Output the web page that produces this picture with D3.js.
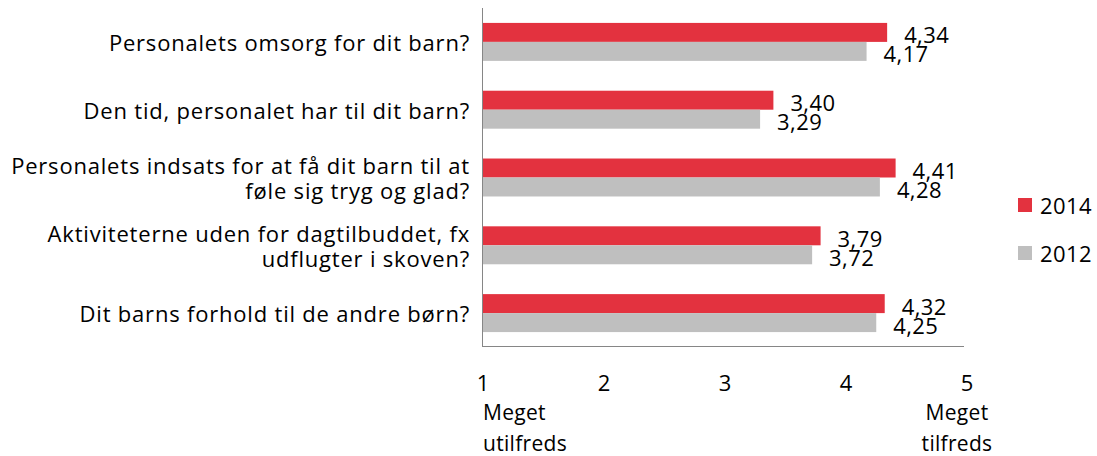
<!DOCTYPE html>
<html>
<head>
<meta charset="utf-8">
<script src="https://cdn.jsdelivr.net/npm/d3@7"></script>
<style>
  body { margin: 0; background: #fff; }
  svg text { font-family: "Open Sans", sans-serif; fill: #000; }
</style>
</head>
<body>
<div id="chart"></div>
<script>
const categories = [
  ["Personalets omsorg for dit barn?"],
  ["Den tid, personalet har til dit barn?"],
  ["Personalets indsats for at få dit barn til at", "føle sig tryg og glad?"],
  ["Aktiviteterne uden for dagtilbuddet, fx", "udflugter i skoven?"],
  ["Dit barns forhold til de andre børn?"]
];
const years = ["2014", "2012"];
const values2014 = [4.34, 3.40, 4.41, 3.79, 4.32];
const values2012 = [4.17, 3.29, 4.28, 3.72, 4.25];
const ticks = [1, 2, 3, 4, 5];
const colors = { "2014": "#e3323f", "2012": "#bfbfbf" };

const width = 1097, height = 456;
const svg = d3.select("#chart").append("svg").attr("width", width).attr("height", height);

const x = d3.scaleLinear().domain([1, 5]).range([483, 967]);
const y = d3.scaleBand().domain(d3.range(categories.length)).range([8, 347]).paddingInner(0.44).paddingOuter(0.22);
const sub = d3.scaleBand().domain(years).range([0, y.bandwidth()]);

const rows = categories.map((c, i) => ({ i, lines: c, "2014": values2014[i], "2012": values2012[i] }));

// axes lines
svg.append("line").attr("x1", 482.5).attr("x2", 482.5).attr("y1", 8).attr("y2", 347).attr("stroke", "#868686").attr("stroke-width", 1);
svg.append("line").attr("x1", 482).attr("x2", 964).attr("y1", 346.5).attr("y2", 346.5).attr("stroke", "#868686").attr("stroke-width", 1);

const g = svg.selectAll(".row").data(rows).enter().append("g").attr("transform", d => `translate(0,${y(d.i)})`);

years.forEach(yr => {
  g.append("rect")
    .attr("x", x(1))
    .attr("y", sub(yr))
    .attr("width", d => x(d[yr]) - x(1))
    .attr("height", sub.bandwidth())
    .attr("fill", colors[yr]);
  g.append("text")
    .attr("x", d => x(d[yr]) + 17)
    .attr("y", sub(yr) + sub.bandwidth() / 2 + 2)
    .attr("dominant-baseline", "central")
    .attr("font-size", "22px")
    .attr("letter-spacing", "0.4px")
    .text(d => d3.format(".2f")(d[yr]).replace(".", ","));
});

// category labels
g.each(function(d) {
  const n = d.lines.length;
  d.lines.forEach((line, k) => {
    d3.select(this).append("text")
      .attr("x", 470)
      .attr("y", y.bandwidth() / 2 + (k - (n - 1) / 2) * 25)
      .attr("dominant-baseline", "central")
      .attr("text-anchor", "end")
      .attr("font-size", "22px")
      .attr("letter-spacing", "0.8px")
      .text(line);
  });
});

// tick labels
svg.selectAll(".tick").data(ticks).enter().append("text")
  .attr("x", d => x(d))
  .attr("y", 382)
  .attr("dominant-baseline", "central")
  .attr("text-anchor", "middle")
  .attr("font-size", "22px")
  .text(d => d);

const end = [
  { t: "Meget", x: 483, y: 412, a: "start" },
  { t: "utilfreds", x: 483, y: 443, a: "start" },
  { t: "Meget", x: 957, y: 412, a: "middle" },
  { t: "tilfreds", x: 957, y: 443, a: "middle" }
];
svg.selectAll(".end").data(end).enter().append("text")
  .attr("x", d => d.x).attr("y", d => d.y)
  .attr("dominant-baseline", "central")
  .attr("text-anchor", d => d.a)
  .attr("font-size", "21px")
  .attr("letter-spacing", "0.3px")
  .text(d => d.t);

// legend
const leg = svg.selectAll(".leg").data(years).enter().append("g")
  .attr("transform", (d, i) => `translate(1018,${198 + i * 48})`);
leg.append("rect").attr("width", 14).attr("height", 14).attr("fill", d => colors[d]);
leg.append("text").attr("x", 22).attr("y", 7).attr("dominant-baseline", "central")
  .attr("font-size", "22px").attr("letter-spacing", "0.4px").text(d => d);
</script>
</body>
</html>
